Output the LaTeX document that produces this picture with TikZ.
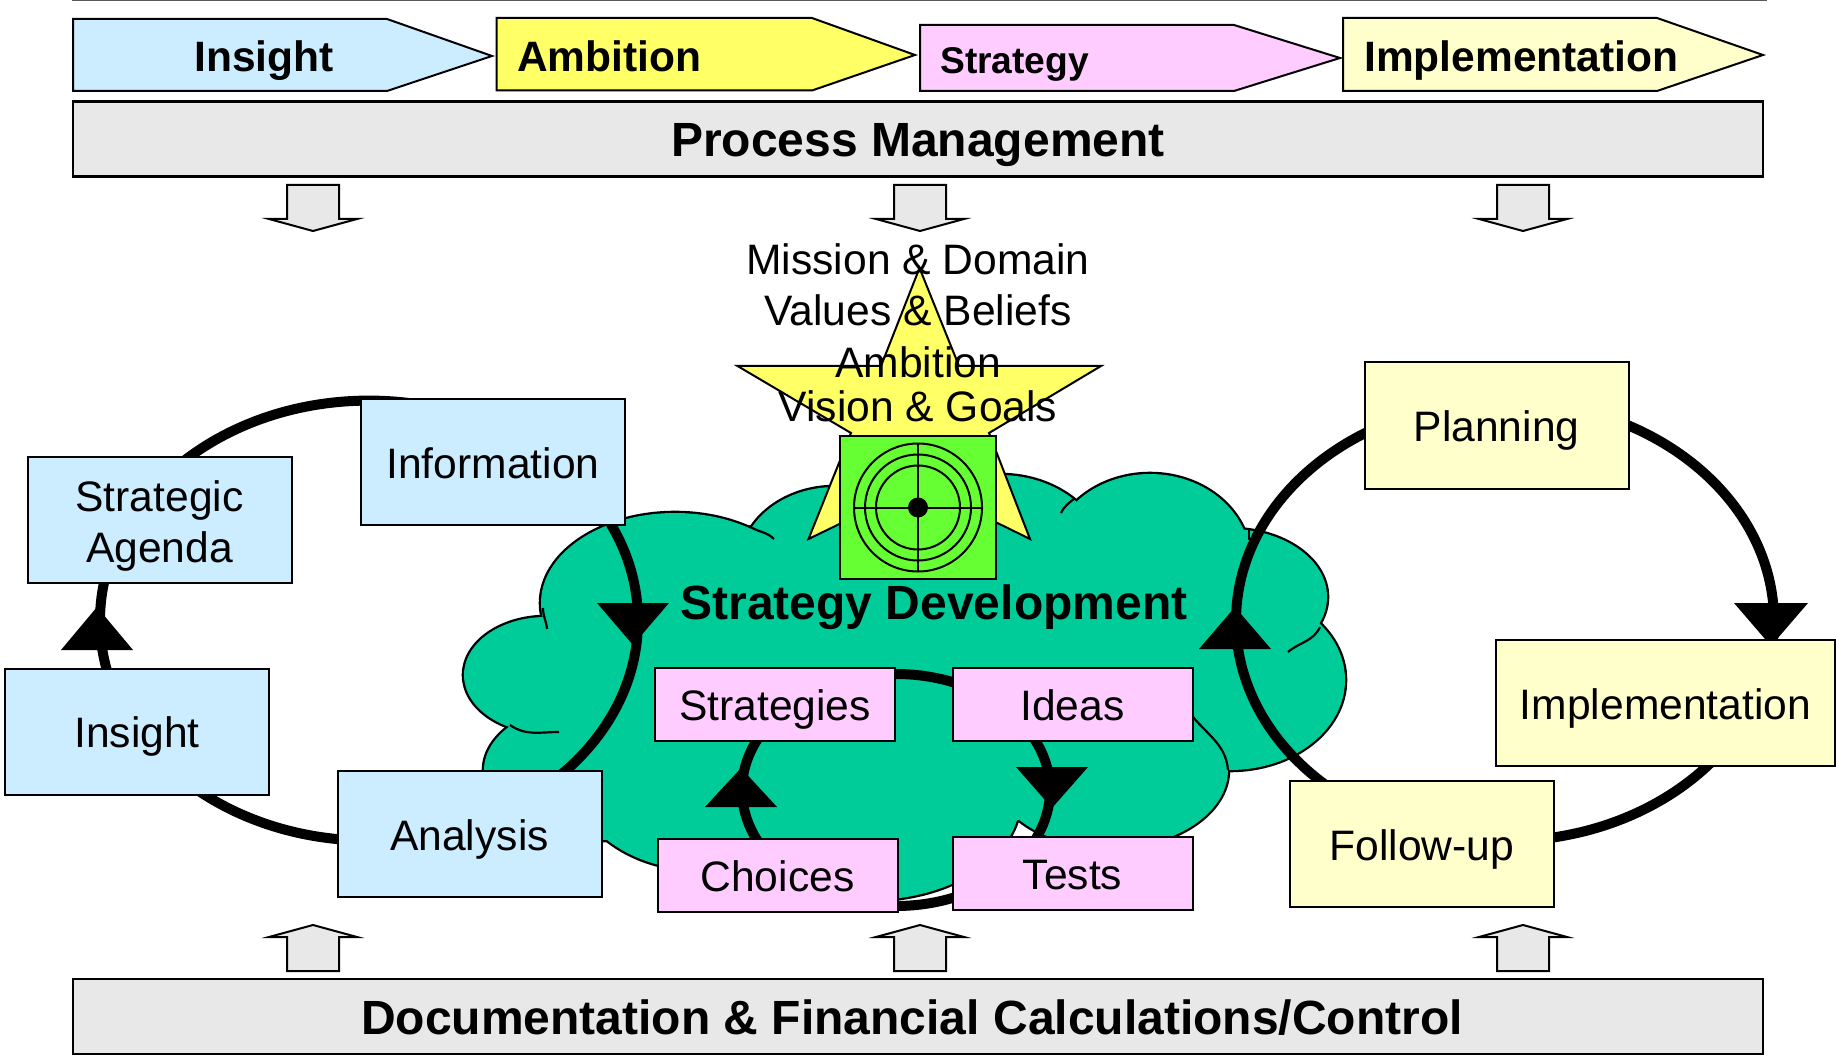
\documentclass[tikz,border=0pt]{standalone}
\usepackage{fontspec}
\setmainfont{Liberation Sans}
\usepackage{xcolor}
\usetikzlibrary{positioning}
\definecolor{pmgray}{RGB}{232,232,232}
\definecolor{phblue}{RGB}{204,236,255}
\definecolor{phyellow}{RGB}{255,255,102}
\definecolor{phpink}{RGB}{255,204,255}
\definecolor{phcream}{RGB}{255,255,204}
\definecolor{cloudgreen}{RGB}{0,204,153}
\definecolor{targetgreen}{RGB}{102,255,51}
\tikzstyle{boldlabel} = [font=\fontsize{42.5}{48}\selectfont\bfseries, inner sep=0pt, text height=31pt, text depth=9pt]
\tikzstyle{biglabel} = [font=\fontsize{48}{54}\selectfont\bfseries, inner sep=0pt, text height=46pt, text depth=10pt]
\tikzstyle{textlabel} = [font=\fontsize{42.6}{48}\selectfont, inner sep=0pt, text height=38pt, text depth=6pt]
\tikzstyle{phase} = [draw=black, line width=2pt, line join=miter]
\tikzstyle{band} = [rectangle, draw=black, fill=pmgray, line width=2.5pt, minimum width=1690pt, minimum height=75pt, biglabel]
\tikzstyle{bigbox} = [rectangle, draw=black, line width=2pt, minimum width=264pt, minimum height=126pt, textlabel]
\tikzstyle{smallbox} = [rectangle, draw=black, fill=phpink, line width=2pt, minimum width=240pt, minimum height=73pt, textlabel]
\tikzstyle{blockarrow} = [draw=black, fill=pmgray, line width=2pt, line join=miter]
\tikzstyle{loopline} = [draw=black, line width=10pt]
\tikzstyle{tick} = [draw=black, line width=2.2pt]
\begin{document}
\begin{tikzpicture}[x=1pt, y=-1pt]
\useasboundingbox (0,0) rectangle (1836,1056);

% Top rule
\coordinate (ruleleft) at (72,0.7);
\coordinate (ruleright) at (1767,0.7);
\draw[line width=1.2pt, gray!70!black] (ruleleft) -- (ruleright);

% Phases
\draw[phase, fill=phblue] (73,19) -- (387,19) -- (492,56) -- (387,91) -- (73,91) -- cycle;
\draw[phase, fill=phyellow] (496.5,18) -- (812,18) -- (915,55) -- (812,90.5) -- (496.5,90.5) -- cycle;
\draw[phase, fill=phpink] (920,25) -- (1234,25) -- (1340,58) -- (1234,91) -- (920,91) -- cycle;
\draw[phase, fill=phcream] (1343,18) -- (1657,18) -- (1763,55) -- (1657,91) -- (1343,91) -- cycle;
\node (insight) [boldlabel] at (264,61) {Insight};
\node (ambition) [boldlabel, anchor=west] at (517,61) {Ambition};
\node (strategy) [boldlabel, anchor=west, font=\fontsize{37.2}{42}\selectfont\bfseries] at (940,62.5) {Strategy};
\node (impl) [boldlabel, anchor=west] at (1364,61) {Implementation};

% Bands
\node (process) [band] at (918,139) {Process Management};
\node (docs) [band] at (918,1016.5) {};
\node (docstext) [biglabel] at (912,1016.5) {Documentation \& Financial Calculations/Control};

% Block arrows
\foreach \cx in {313,920,1523} {
  \draw[blockarrow] (\cx-26,185) -- (\cx+26,185) -- (\cx+26,219) -- (\cx+44,219) -- (\cx,231) -- (\cx-44,219) -- (\cx-26,219) -- cycle;
  \draw[blockarrow] (\cx-26,971) -- (\cx+26,971) -- (\cx+26,937) -- (\cx+44,937) -- (\cx,925) -- (\cx-44,937) -- (\cx-26,937) -- cycle;
}

% Cloud
\foreach \cx/\cy/\rx/\ry in {546/675/82/58, 675/603/134/90, 835/565/95/78, 1000/560/105/85, 1150/560/100/86, 1230/597/97/68, 1230/680/115/90, 1110/770/118/78, 870/800/150/100, 700/770/130/100, 601/770/117/70}
  \draw[draw=black, fill=cloudgreen, line width=4.6pt] (\cx,\cy) ellipse [x radius=\rx pt, y radius=\ry pt];
\foreach \cx/\cy/\rx/\ry in {546/675/82/58, 675/603/134/90, 835/565/95/78, 1000/560/105/85, 1150/560/100/86, 1230/597/97/68, 1230/680/115/90, 1110/770/118/78, 870/800/150/100, 700/770/130/100, 601/770/117/70}
  \fill[cloudgreen] (\cx,\cy) ellipse [x radius=\rx pt, y radius=\ry pt];
\fill[cloudgreen] (560,640) -- (1240,560) -- (1300,700) -- (1150,820) -- (600,820) -- cycle;
\draw[tick] (510,725) to[out=-35,in=180] (559,732);
\draw[tick] (543,608) to[out=-90,in=95] (547,629);
\draw[tick] (749,526) to[out=-35,in=135] (774,539);
\draw[tick] (1075,498) to[out=-140,in=65] (1061,513);
\draw[tick] (1320,627) to[out=-115,in=40] (1288,652);
\draw[tick] (1249,530) -- (1249,540);
\draw[tick] (1193,717) to[out=-50,in=95] (1228,770);

% Star and target
\draw[draw=black, fill=phyellow, line width=2pt, line join=miter] (919.5,268) -- (959,366) -- (1101,366) -- (989,433) -- (1030,539) -- (920,485) -- (808.5,539) -- (851,433) -- (737.5,366) -- (881,366) -- cycle;
\node (targetbox) [rectangle, draw=black, fill=targetgreen, line width=2pt, minimum width=156pt, minimum height=143pt] at (918,507.5) {};
\draw[line width=2pt] (targetbox.center) circle [radius=64pt] circle [radius=53pt] circle [radius=42pt];
\coordinate (crossleft) at (854,507.7);
\coordinate (crossright) at (982,507.7);
\coordinate (crosstop) at (918,443.7);
\coordinate (crossbottom) at (918,571.7);
\draw[line width=2.4pt] (crossleft) -- (crossright);
\draw[line width=2.4pt] (crosstop) -- (crossbottom);
\fill[black] (targetbox.center) circle [radius=10pt];

% Star text
\node (mission) [textlabel] at (918,258.5) {Mission \& Domain};
\node (values) [textlabel] at (918,309.5) {Values \& Beliefs};
\node (ambitiontext) [textlabel] at (918,361.5) {Ambition};
\node (vision) [textlabel] at (918,405.5) {Vision \& Goals};
\node (development) [biglabel] at (934,601) {Strategy Development};

% Loops
\draw[loopline] (369,620.6) ellipse [x radius=269pt, y radius=220pt];
\draw[loopline] (1505,621) ellipse [x radius=269pt, y radius=220pt];
\draw[loopline] (896,790) ellipse [x radius=154pt, y radius=116pt];
\fill[black] (597,603) -- (669,603) -- (633,645) -- cycle;
\fill[black] (61,650) -- (133,650) -- (97,607) -- cycle;
\fill[black] (1734,603) -- (1808,603) -- (1771,646) -- cycle;
\fill[black] (1199,649) -- (1271,649) -- (1235,607) -- cycle;
\fill[black] (705,807) -- (777,807) -- (741,768) -- cycle;
\fill[black] (1016,767) -- (1088,767) -- (1052,808) -- cycle;

% Insight boxes
\node (information) [bigbox, fill=phblue] at (493,462) {Information};
\node (agenda) [bigbox, fill=phblue, text height=85pt, text depth=0pt, align=center, font=\fontsize{42.6}{51}\selectfont] at (159.5,519.5) {Strategic\\Agenda};
\node (insightbox) [bigbox, fill=phblue] at (137,731.5) {Insight};
\node (analysis) [bigbox, fill=phblue] at (469.5,834) {Analysis};

% Implementation boxes
\node (planning) [bigbox, fill=phcream] at (1496.5,425.5) {Planning};
\node (implbox) [bigbox, fill=phcream, minimum width=339pt] at (1665.5,703) {Implementation};
\node (followup) [bigbox, fill=phcream] at (1422,844) {Follow-up};

% Strategy boxes
\node (strategies) [smallbox] at (775,704.5) {Strategies};
\node (ideas) [smallbox, right of=strategies, node distance=297.5pt] {Ideas};
\node (tests) [smallbox, below of=ideas, node distance=169pt] {Tests};
\node (choices) [smallbox] at (777.5,875.5) {Choices};
\end{tikzpicture}
\end{document}
